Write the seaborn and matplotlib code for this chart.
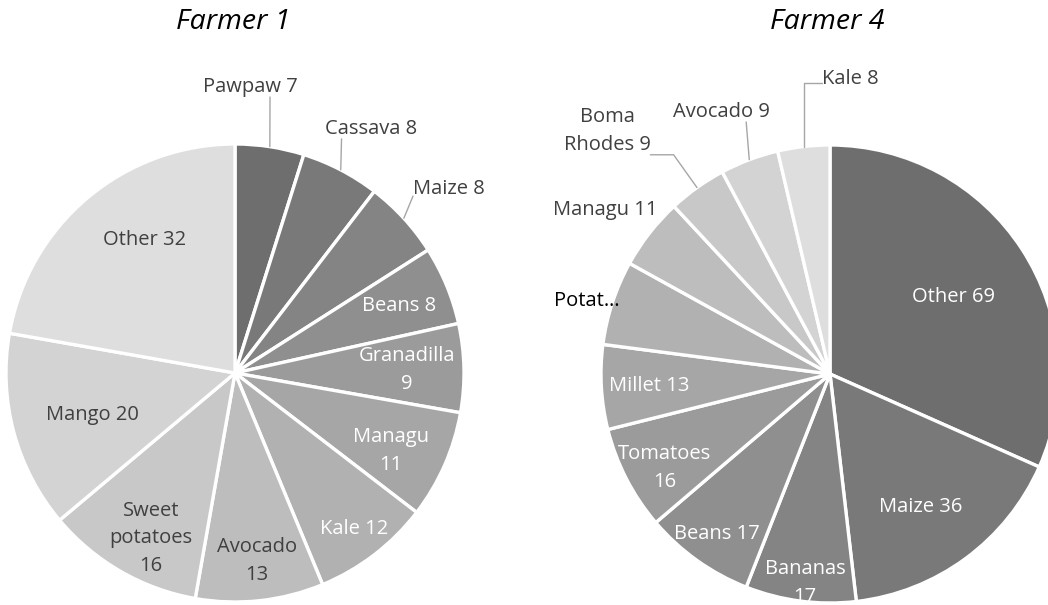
import numpy as np
import matplotlib.pyplot as plt
import seaborn as sns

# data
farmer1_crops = ["Pawpaw", "Cassava", "Maize", "Beans", "Granadilla", "Managu",
                 "Kale", "Avocado", "Sweet potatoes", "Mango", "Other"]
farmer1_values = [7, 8, 8, 8, 9, 11, 12, 13, 16, 20, 32]

farmer4_crops = ["Other", "Maize", "Bananas", "Beans", "Tomatoes", "Millet",
                 "Potatoes", "Managu", "Boma Rhodes", "Avocado", "Kale"]
farmer4_values = [69, 36, 17, 17, 16, 13, 13, 11, 9, 9, 8]

# label text templates ({v} = value), as Excel wrapped / truncated them
farmer1_fmt = ["Pawpaw {v}", "Cassava {v}", "Maize {v}", "Beans {v}", "Granadilla\n{v}",
               "Managu\n{v}", "Kale {v}", "Avocado\n{v}", "Sweet\npotatoes\n{v}",
               "Mango {v}", "Other {v}"]
farmer4_fmt = ["Other {v}", "Maize {v}", "Bananas\n{v}", "Beans {v}", "Tomatoes\n{v}",
               "Millet {v}", "Potat\u2026", "Managu {v}", "Boma\nRhodes {v}",
               "Avocado {v}", "Kale {v}"]

# layout: label centres in pie units (radius = 1)
farmer1_pos = [(0.066, 1.249), (0.594, 1.066), (0.934, 0.803), (0.716, 0.293),
               (0.751, 0.013), (0.681, -0.341), (0.520, -0.681), (0.096, -0.821),
               (-0.367, -0.721), (-0.624, -0.183), (-0.397, 0.581)]
farmer4_pos = [(0.541, 0.336), (0.397, -0.581), (-0.109, -0.913), (-0.493, -0.699),
               (-0.721, -0.410), (-0.790, -0.052), (-1.061, 0.319), (-0.983, 0.716),
               (-0.974, 1.061), (-0.476, 1.144), (0.087, 1.288)]

DARK = "#404040"
farmer1_txt = [DARK, DARK, DARK, "white", "white", "white", "white",
               DARK, DARK, DARK, DARK]
farmer4_txt = ["white"] * 6 + ["black", DARK, DARK, DARK, DARK]

# leader lines: index -> (relpos on label, connection style)
farmer1_leaders = {0: ((0.71, 0.0), "arc3"),
                   1: ((0.18, 0.0), "arc3"),
                   2: ((0.0, 0.15), "arc3")}
farmer4_leaders = {8: ((1.0, 0.0), "elbow"),
                   9: ((0.76, 0.0), "arc3"),
                   10: ((0.0, 0.3), "elbow_v")}

sns.set_theme(style="white")
plt.rcParams["font.family"] = ["Open Sans", "DejaVu Sans"]

fig = plt.figure(figsize=(10.48, 6.05), dpi=100)
W, H = 1048, 605
R = 229
FS = 14.5
LS = 1.5


def draw_pie(ax, values, fmt, pos, txt_colors, leaders, palette):
    wedges, _ = ax.pie(values, startangle=90, counterclock=False, colors=palette,
                       wedgeprops=dict(edgecolor="white", linewidth=2.4))
    ax.set_xlim(-1, 1)
    ax.set_ylim(-1, 1)
    ax.set_aspect("equal")
    ax.axis("off")
    for i, (w, v) in enumerate(zip(wedges, values)):
        mid = np.deg2rad((w.theta1 + w.theta2) / 2)
        edge = (np.cos(mid), np.sin(mid))
        text = fmt[i].format(v=v)
        if i in leaders:
            relpos, style = leaders[i]
            if style == "elbow":
                cs = f"angle,angleA=0,angleB={np.rad2deg(mid):.1f},rad=0"
            elif style == "elbow_v":
                cs = "angle,angleA=0,angleB=90,rad=0"
            else:
                cs = "arc3,rad=0"
            ax.annotate(text, xy=edge, xytext=pos[i], ha="center", va="center",
                        fontsize=FS, color=txt_colors[i], multialignment="center",
                        annotation_clip=False, linespacing=LS,
                        arrowprops=dict(arrowstyle="-", color="#a6a6a6", lw=1.0,
                                        shrinkA=0, shrinkB=0, patchA=None,
                                        relpos=relpos, connectionstyle=cs))
        else:
            ax.text(pos[i][0], pos[i][1], text, ha="center", va="center",
                    fontsize=FS, color=txt_colors[i], multialignment="center",
                    clip_on=False, linespacing=LS)


ax1 = fig.add_axes([(235 - R) / W, (H - 373 - R) / H, 2 * R / W, 2 * R / H])
pal1 = sns.blend_palette(["#6e6e6e", "#dedede"], len(farmer1_values))
draw_pie(ax1, farmer1_values, farmer1_fmt, farmer1_pos, farmer1_txt,
         farmer1_leaders, pal1)

ax4 = fig.add_axes([(830 - R) / W, (H - 374 - R) / H, 2 * R / W, 2 * R / H])
pal4 = sns.blend_palette(["#6e6e6e", "#dedede"], len(farmer4_values))
draw_pie(ax4, farmer4_values, farmer4_fmt, farmer4_pos, farmer4_txt,
         farmer4_leaders, pal4)

fig.text(233 / W, 1 - 22 / H, "Farmer 1", ha="center", va="center",
         fontsize=20.5, style="italic", color="black")
fig.text(827 / W, 1 - 22 / H, "Farmer 4", ha="center", va="center",
         fontsize=20.5, style="italic", color="black")

fig.savefig("out.png", dpi=100)
